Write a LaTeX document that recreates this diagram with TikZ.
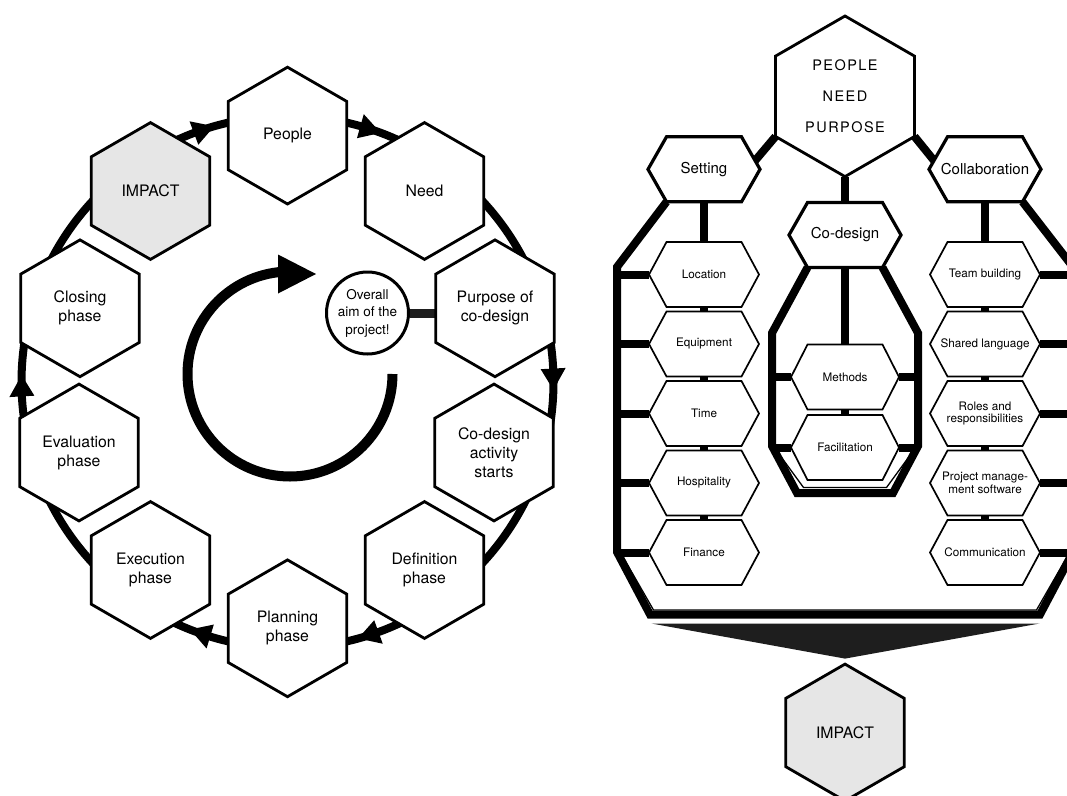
\documentclass[tikz,border=0pt]{standalone}
\usepackage{fontspec}
\setmainfont{TeX Gyre Heros}
\newfontfamily\spacedfont[LetterSpace=10]{TeX Gyre Heros}
\usetikzlibrary{calc}
\pgfdeclarelayer{bg}
\pgfsetlayers{bg,main}
\definecolor{impactgray}{HTML}{E6E6E6}
\definecolor{darkbar}{HTML}{1E1E1E}
\tikzset{
  hexL/.style={draw=black, line width=2.8pt, fill=white, line join=miter},
  hexG/.style={hexL, fill=impactgray},
  hexTop/.style={draw=black, line width=3.2pt, fill=white, line join=miter},
  hexCol/.style={draw=black, line width=1.7pt, fill=white, line join=miter},
  txtL/.style={font=\fontsize{15.8}{19}\selectfont, align=center, inner sep=0pt, outer sep=0pt},
  txtTop/.style={font=\fontsize{15}{18}\selectfont, align=center, inner sep=0pt, outer sep=0pt},
  txtCol/.style={font=\fontsize{11.7}{12.5}\selectfont, align=center, inner sep=0pt, outer sep=0pt},
  pnptxt/.style={font=\spacedfont\fontsize{14.5}{31}\selectfont, align=center, inner sep=0pt, outer sep=0pt},
  ringline/.style={line width=8pt},
  connbar/.style={line width=8pt},
  bigframe/.style={line width=8pt, line join=miter},
  thinframe/.style={line width=1.3pt, line join=miter},
}
% pointy-top hexagon: name, x, y, R, hex style, text style, text
\newcommand\HexP[7]{%
  \draw[#5] (#2,#3) +(0,-#4) -- +({0.866*#4},{-0.5*#4}) -- +({0.866*#4},{0.5*#4})
    -- +(0,#4) -- +({-0.866*#4},{0.5*#4}) -- +({-0.866*#4},{-0.5*#4}) -- cycle;
  \node[#6, minimum width={1.732*#4}, minimum height={2*#4}] (#1) at (#2,#3) {#7};}
% flat hexagon with side points: name, x, y, half width, hex style, text style, text
\newcommand\HexF[7]{%
  \draw[#5] (#2,#3) +(-#4,0) -- +(-37.5,-32.5) -- +(37.5,-32.5) -- +(#4,0)
    -- +(37.5,32.5) -- +(-37.5,32.5) -- cycle;
  \node[#6, minimum width={2*#4}, minimum height=65] (#1) at (#2,#3) {#7};}
\newcommand\RingArrow[1]{%
  \fill ({#1}:266) -- ({#1-4.6}:278.5) -- ({#1-4.6}:253.5) -- cycle;}
\begin{document}
\begin{tikzpicture}[x=1pt,y=-1pt]
\useasboundingbox (0,0) rectangle (1067,795);
\begin{pgfonlayer}{bg}
  \fill[white] (0,0) rectangle (1067,795);
\end{pgfonlayer}

% ---------------- left: cycle ----------------
\coordinate (ringc) at (287.5,382);
\HexP{people}{287.5}{135.6}{68.4}{hexL}{txtL}{People}
\HexP{need}{424.5}{191}{68.4}{hexL}{txtL}{Need}
\HexP{purpose}{495}{308.3}{68.4}{hexL}{txtL}{Purpose of\\co-design}
\HexP{coact}{494}{452.5}{68.4}{hexL}{txtL}{Co-design\\activity\\starts}
\HexP{definition}{424.5}{570}{68.4}{hexL}{txtL}{Definition\\phase}
\HexP{planning}{287.5}{628.3}{68.4}{hexL}{txtL}{Planning\\phase}
\HexP{execution}{150.5}{570}{68.4}{hexL}{txtL}{Execution\\phase}
\HexP{evaluation}{79}{452.5}{68.4}{hexL}{txtL}{Evaluation\\phase}
\HexP{closing}{80}{308.3}{68.4}{hexL}{txtL}{Closing\\phase}
\HexP{impactL}{150.5}{191}{68.4}{hexG}{txtL}{IMPACT}

\node[draw=black, circle, line width=3pt, minimum size=82, inner sep=0pt,
      font=\fontsize{13.5}{17.5}\selectfont, align=center, fill=white] (aim) at (367.5,313)
      {Overall\\aim of the\\project!};

\begin{pgfonlayer}{bg}
  \draw[ringline] (ringc) circle[radius=266];
  \begin{scope}[shift={(ringc)}]
    \RingArrow{-106}
    \RingArrow{-69.5}
    \RingArrow{1.7}
    \RingArrow{74.6}
    \RingArrow{111.5}
    \RingArrow{181.5}
  \end{scope}
  \draw[line width=9pt, draw=darkbar] (aim.east) -- (aim.east -| purpose.west);
\end{pgfonlayer}

% inner circular arrow
\coordinate (arcc) at (290,374);
\draw[line width=10pt] ($(arcc)+(0:102.5)$) arc[start angle=0, end angle=266, radius=102.5];
\fill ($(arcc)+(-12,-119.5)$) -- ($(arcc)+(26,-100)$) -- ($(arcc)+(-12,-80.5)$) -- cycle;

% ---------------- right: structure ----------------
\HexP{pnp}{845}{96.3}{80.3}{hexL}{pnptxt}{PEOPLE\\NEED\\PURPOSE}
\HexF{setting}{704}{169.3}{56}{hexTop}{txtTop}{Setting}
\HexF{codesign}{845}{235}{56}{hexTop}{txtTop}{Co-design}
\HexF{collab}{985}{169.3}{56}{hexTop}{txtTop}{Collaboration}

\HexF{loc}{704}{274.5}{55}{hexCol}{txtCol}{Location}
\HexF{equ}{704}{344}{55}{hexCol}{txtCol}{Equipment}
\HexF{tim}{704}{413.5}{55}{hexCol}{txtCol}{Time}
\HexF{hos}{704}{483}{55}{hexCol}{txtCol}{Hospitality}
\HexF{fin}{704}{552.5}{55}{hexCol}{txtCol}{Finance}

\HexF{team}{985}{274.5}{55}{hexCol}{txtCol}{Team building}
\HexF{shared}{985}{344}{55}{hexCol}{txtCol}{Shared language}
\HexF{roles}{985}{413.5}{55}{hexCol}{txtCol}{Roles and\\responsibilities}
\HexF{pm}{985}{483}{55}{hexCol}{txtCol}{Project manage-\\ment software}
\HexF{comm}{985}{552.5}{55}{hexCol}{txtCol}{Communication}

\HexF{methods}{845}{377}{54}{hexCol}{txtCol}{Methods}
\HexF{facil}{845}{447.5}{54}{hexCol}{txtCol}{Facilitation}

\HexP{impactR}{845}{732.5}{68.4}{hexG}{txtL}{IMPACT}

\coordinate (FL) at (617,0);
\coordinate (FR) at (1073,0);
\coordinate (CL) at (772,0);
\coordinate (CR) at (918,0);

\begin{pgfonlayer}{bg}
  % connectors from the top hexagon
  \draw[connbar] ($(pnp)+(-69.5,40.2)$) -- ($(setting)+(48,-5)$);
  \draw[connbar] ($(pnp)+(69.5,40.2)$) -- ($(collab)+(-48,-5)$);
  \draw[connbar] (pnp.south) -- (codesign.north);
  \draw[connbar] (setting.south) -- (loc.north);
  \draw[connbar] (collab.south) -- (team.north);
  \draw[connbar] (codesign.south) -- (methods.north);
  \draw[connbar] (methods.south) -- (facil.north);
  % column links
  \draw[connbar] (loc.south) -- (equ.north);
  \draw[connbar] (equ.south) -- (tim.north);
  \draw[connbar] (tim.south) -- (hos.north);
  \draw[connbar] (hos.south) -- (fin.north);
  \draw[connbar] (team.south) -- (shared.north);
  \draw[connbar] (shared.south) -- (roles.north);
  \draw[connbar] (roles.south) -- (pm.north);
  \draw[connbar] (pm.south) -- (comm.north);
  % big frame
  \draw[bigframe] ($(setting)+(-37.5,32.5)$) -- (617,267) -- (617,552) -- (650,614.5)
     -- (1040,614.5) -- (1073,552) -- (1073,267) -- ($(collab)+(37.5,32.5)$);
  \draw[thinframe] (623,557) -- (653.5,610) -- (1036.5,610) -- (1067,557);
  \foreach \n in {loc,equ,tim,hos,fin}{\draw[connbar] (\n.west) -- (\n.west -| FL);}
  \foreach \n in {team,shared,roles,pm,comm}{\draw[connbar] (\n.east) -- (\n.east -| FR);}
  % co-design frame
  \draw[bigframe] ($(codesign)+(-37.5,32.5)$) -- (772,333) -- (772,446) -- (797,493)
     -- (893,493) -- (918,446) -- (918,333) -- ($(codesign)+(37.5,32.5)$);
  \draw[thinframe] (779,454) -- (803.5,487.5) -- (886.5,487.5) -- (911,454);
  \foreach \n in {methods,facil}{
    \draw[connbar] (\n.west) -- (\n.west -| CL);
    \draw[connbar] (\n.east) -- (\n.east -| CR);}
  % funnel
  \fill[darkbar] (651.5,623.5) -- (1039.5,623.5) -- ($(impactR.north)+(0,-5.5)$) -- cycle;
\end{pgfonlayer}
\end{tikzpicture}
\end{document}
